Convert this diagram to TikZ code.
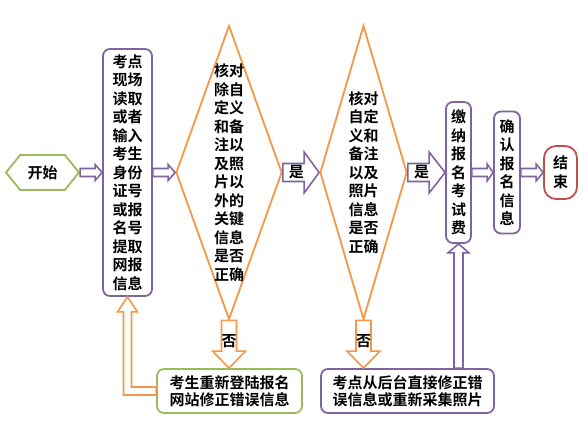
\documentclass[tikz,border=0pt]{standalone}
\usepackage{fontspec}
\newfontfamily\cjk[BoldFont={Noto Sans CJK SC Bold}]{Noto Sans CJK SC}
\usetikzlibrary{calc,shapes.geometric,shapes.symbols}
\definecolor{vio}{HTML}{8064A2}
\definecolor{ora}{HTML}{F79646}
\definecolor{grn}{HTML}{9BBB59}
\definecolor{brick}{HTML}{C0504D}

\begin{document}
\begin{tikzpicture}[x=1pt, y=1pt,
  every node/.style={font=\cjk\bfseries\fontsize{15pt}{18.5pt}\selectfont},
  proc/.style={draw=vio, line width=1.8pt, rounded corners=7pt, align=center, inner sep=0pt, fill=white},
  dec/.style={draw=ora, diamond, line width=1.8pt, inner sep=0pt, minimum height=294pt},
  txt/.style={align=center, inner sep=0pt},
  blk/.style={draw=vio, fill=white, line width=1.6pt},
  rblock/.style n args={3}{to path={let \p1=(\tikztostart), \p2=(\tikztotarget) in
    (\x1,\y1+#1) -- (\x2-#3,\y1+#1) -- (\x2-#3,\y1+#2) -- (\x2,\y1) -- (\x2-#3,\y1-#2) -- (\x2-#3,\y1-#1) -- (\x1,\y1-#1) -- cycle}},
  dblock/.style n args={3}{to path={let \p1=(\tikztostart), \p2=(\tikztotarget) in
    (\x1-#1,\y1) -- (\x1-#1,\y2+#3) -- (\x1-#2,\y2+#3) -- (\x1,\y2) -- (\x1+#2,\y2+#3) -- (\x1+#1,\y2+#3) -- (\x1+#1,\y1) -- cycle}},
  ublock/.style n args={3}{to path={let \p1=(\tikztostart), \p2=(\tikztotarget) in
    (\x2-#1,\y1) -- (\x2-#1,\y2-#3) -- (\x2-#2,\y2-#3) -- (\x2,\y2) -- (\x2+#2,\y2-#3) -- (\x2+#1,\y2-#3) -- (\x2+#1,\y1) -- cycle}}
]
\useasboundingbox (0,0) rectangle (588,435);

% main row
\node[draw=grn, line width=1.8pt, signal, signal to=west and east, signal pointer angle=102,
  minimum width=73pt, minimum height=35pt, inner sep=0pt] (start) at (42.5,262.5) {开始};
\node[proc, minimum width=49pt, minimum height=247pt] (read) at (127.5,262.5)
  {考点\\现场\\读取\\或者\\输入\\考生\\身份\\证号\\或报\\名号\\提取\\网报\\信息};
\node[dec, minimum width=106pt] (chk1) at (229,262.5) {};
\node[txt] (chk1txt) at (chk1) {核对\\除自\\定义\\和备\\注以\\及照\\片以\\外的\\关键\\信息\\是否\\正确};
\node[dec, minimum width=87pt] (chk2) at (363.5,262.5) {};
\node[txt] (chk2txt) at (chk2) {核对\\自定\\义和\\备注\\以及\\照片\\信息\\是否\\正确};
\node[proc, minimum width=25pt, minimum height=141pt] (pay) at (458.5,262.5) {缴\\纳\\报\\名\\考\\试\\费};
\node[proc, minimum width=26pt, minimum height=122pt] (confirm) at (507,262.5) {确\\认\\报\\名\\信\\息};
\node[proc, draw=brick, rounded corners=12pt, minimum width=33pt, minimum height=53pt] (finish) at (560.5,262.5) {结\\束};

% correction boxes
\node[proc, draw=grn, minimum width=145pt, minimum height=44pt,
  font=\cjk\bfseries\fontsize{15pt}{17pt}\selectfont] (redo) at (229.5,44) {考生重新登陆报名\\网站修正错误信息};
\node[proc, minimum width=173pt, minimum height=44pt,
  font=\cjk\bfseries\fontsize{15pt}{17pt}\selectfont] (fix) at (407.5,44) {考点从后台直接修正错\\误信息或重新采集照片};

% block arrows
\draw[blk, rblock={4}{8}{7}] (start.east) to (read.west);
\draw[blk, rblock={4}{8}{7}] (read.west -| read.east) to (chk1.west);
\draw[blk, rblock={9}{20.5}{15}] (chk1.east) to (chk2.west);
\draw[blk, rblock={9}{20.5}{16}] (chk2.east) to (pay.west);
\draw[blk, rblock={4}{8.5}{6}] (pay.east) to (confirm.west);
\draw[blk, rblock={4}{8.5}{7}] (confirm.east) to (finish.west);
\draw[blk, draw=ora, dblock={7.5}{16.5}{17}] (chk1.south) to (redo.north);
\draw[blk, draw=ora, dblock={7.5}{16.5}{17}] (chk2.south) to (fix.north);
\draw[blk, ublock={4.5}{10.5}{9}] (fix.north) to (pay.south);
\draw[blk, draw=ora] let \p1=(redo.west), \p2=(read.south) in
  (\x1,\y1+4) -- (\x2+4,\y1+4) -- (\x2+4,\y2-15) -- (\x2+10,\y2-15) -- (\x2,\y2)
  -- (\x2-10,\y2-15) -- (\x2-4,\y2-15) -- (\x2-4,\y1-4) -- (\x1,\y1-4) -- cycle;

% labels
\path (chk1.east) -- (chk2.west) node[pos=0.37] (yes1) {是};
\path (chk2.east) -- (pay.west) node[pos=0.37] (yes2) {是};
\path (chk1.south) -- (chk1.south |- redo.north) node[pos=0.44] (no1) {否};
\path (chk2.south) -- (chk2.south |- fix.north) node[pos=0.44] (no2) {否};
\end{tikzpicture}
\end{document}
